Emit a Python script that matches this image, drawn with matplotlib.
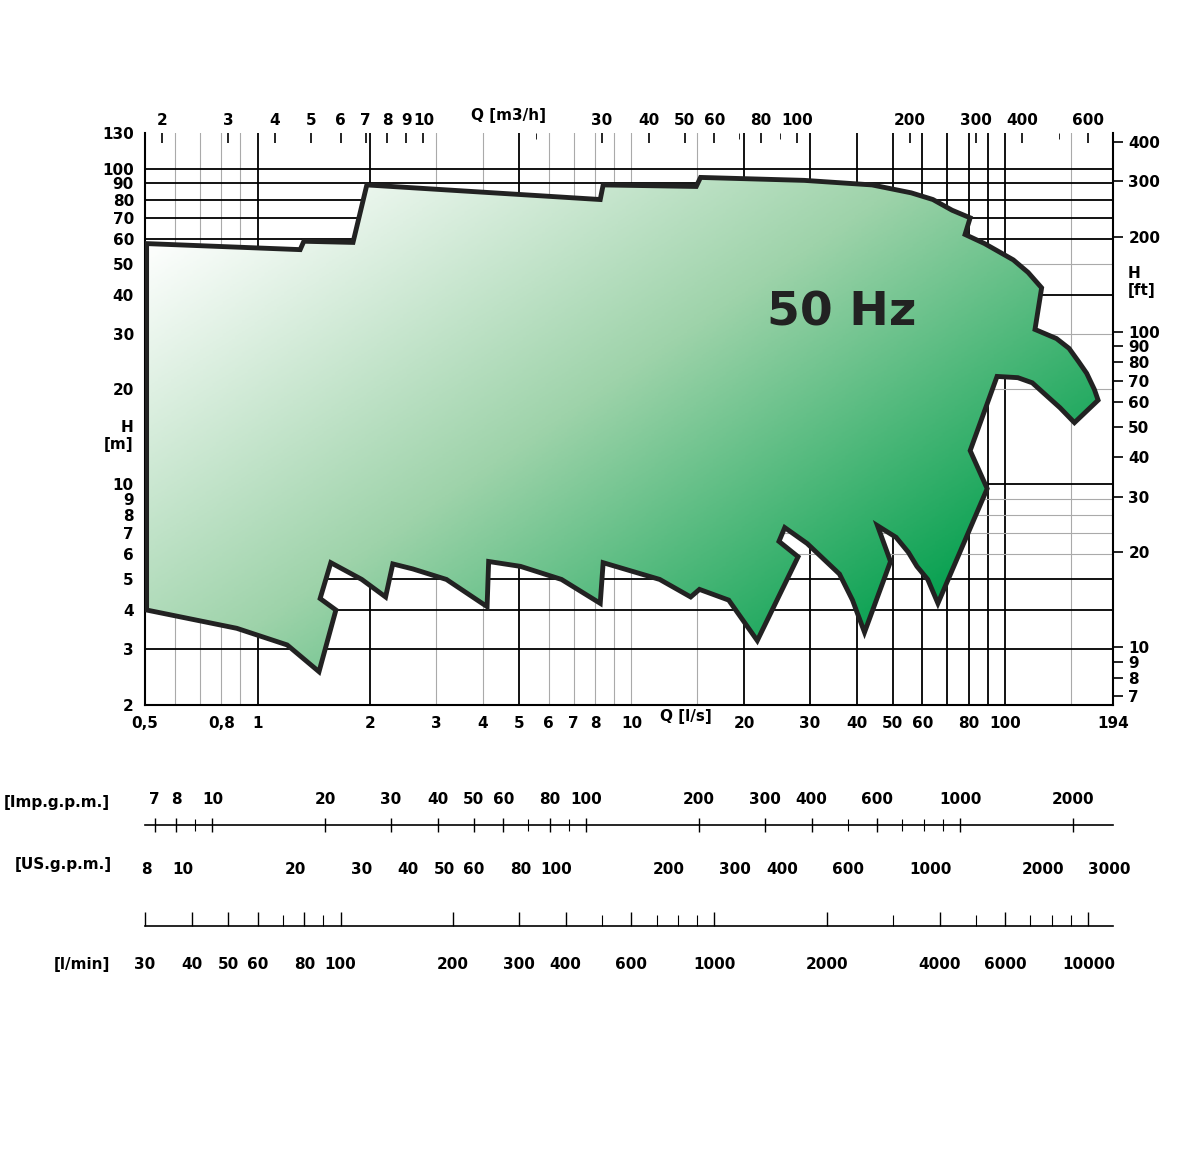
import numpy as np
import matplotlib.pyplot as plt
from matplotlib.patches import Polygon
from matplotlib.colors import LinearSegmentedColormap
from matplotlib.ticker import LogLocator, NullFormatter

# envelope of the 50 Hz pump range, Q [l/s], H [m]
env_q = [0.505, 1.30, 1.33, 1.80, 1.96, 8.25, 8.40, 14.9, 15.3, 29.0, 44.0, 56.0, 64.0, 72.0,
         80.5, 78.0, 88.0, 105, 115, 125, 120, 137, 148, 157, 165, 173, 177, 153, 140, 118,
         108, 95, 80.5, 89.4,
         66.0, 62.0, 58.0, 55.0, 51.0, 45.5, 49.3, 42.0, 39.0, 36.0, 29.5, 25.7, 24.8, 27.9,
         21.7, 18.2, 15.2,
         14.4, 11.9, 8.40, 8.25, 6.5, 5.05, 4.15, 4.11, 3.2, 2.6, 2.30, 2.20, 1.90, 1.57,
         1.47, 1.62, 1.46, 1.20, 0.88, 0.505]
env_h = [58.0, 55.5, 59.0, 58.5, 89.0, 80.0, 89.0, 88.0, 94.0, 92.0, 89.0, 84.0, 80.0, 74.0,
         70.0, 62.0, 58.0, 51.5, 47.0, 42.0, 31.0, 29.0, 27.0, 24.5, 22.5, 20.0, 18.5, 15.7,
         17.5, 21.0, 21.8, 22.0,
         12.8, 9.7, 4.2, 5.0, 5.5, 6.1, 6.8, 7.4, 5.7, 3.4, 4.3, 5.2, 6.5, 7.3, 6.6, 5.9,
         3.2, 4.3, 4.65,
         4.4, 5.0, 5.65, 4.2, 5.0, 5.5, 5.7, 4.1, 5.0, 5.4, 5.6, 4.4, 5.0, 5.65, 4.35,
         4.0, 2.55, 3.1, 3.5, 4.0]

x_ticks = [0.5, 0.8, 1, 2, 3, 4, 5, 6, 7, 8, 10, 20, 30, 40, 50, 60, 80, 100, 194]
x_labels = ['0,5', '0,8', '1', '2', '3', '4', '5', '6', '7', '8', '10', '20', '30', '40',
            '50', '60', '80', '100', '194']
y_ticks = [2, 3, 4, 5, 6, 7, 8, 9, 10, 20, 30, 40, 50, 60, 70, 80, 90, 100, 130]
ft_ticks = [7, 8, 9, 10, 20, 30, 40, 50, 60, 70, 80, 90, 100, 200, 300, 400]
m3h_ticks = [2, 3, 4, 5, 6, 7, 8, 9, 10, 30, 40, 50, 60, 80, 100, 200, 300, 400, 600]
imp_ticks = [7, 8, 10, 20, 30, 40, 50, 60, 80, 100, 200, 300, 400, 600, 1000, 2000]
us_ticks = [8, 10, 20, 30, 40, 50, 60, 80, 100, 200, 300, 400, 600, 1000, 2000, 3000]
lmin_ticks = [30, 40, 50, 60, 80, 100, 200, 300, 400, 600, 1000, 2000, 4000, 6000, 10000]

black_v = [1, 2, 5, 20, 30, 40, 50, 60, 70, 80, 90, 100]
gray_v = [0.6, 0.7, 0.8, 0.9, 3, 4, 6, 7, 8, 9, 10, 15, 150]
black_h = [3, 4, 5, 10, 40, 60, 70, 80, 90, 100]
gray_h = [6, 7, 8, 9, 20, 30, 50]

QMIN, QMAX, HMIN, HMAX = 0.5, 194, 2, 130
fs = 11

def minor_log(axis):
    axis.set_minor_locator(LogLocator(base=10, subs=np.arange(2, 10), numticks=30))
    axis.set_minor_formatter(NullFormatter())

fig = plt.figure(figsize=(12, 11.7), dpi=100)
ax = fig.add_axes([145 / 1200, 1 - 705 / 1170, 968 / 1200, 572 / 1170])
ax.set_xscale('log')
ax.set_yscale('log')
ax.set_xlim(QMIN, QMAX)
ax.set_ylim(HMIN, HMAX)

for v in gray_v:
    ax.axvline(v, color='#aaaaaa', lw=0.8, zorder=1)
for v in black_v:
    ax.axvline(v, color='black', lw=1.3, zorder=1)
for h in gray_h:
    ax.axhline(h, color='#aaaaaa', lw=0.8, zorder=1)
for h in black_h:
    ax.axhline(h, color='black', lw=1.3, zorder=1)

# gradient fill clipped by the envelope (white top-left -> green bottom-right)
yy, xx = np.mgrid[0:1:300j, 0:1:300j]
t = np.clip((xx * 0.75 + yy * 0.65 - 0.12) / 1.05, 0, 1)
cmap = LinearSegmentedColormap.from_list('g', ['#ffffff', '#9ed3aa', '#009e4c'])
im = ax.imshow(t, cmap=cmap, extent=(0, 1, 0, 1), origin='upper',
               transform=ax.transAxes, aspect='auto', zorder=2)
poly = Polygon(np.column_stack([env_q, env_h]), closed=True, facecolor='none',
               edgecolor='#222222', lw=3.5, zorder=3, joinstyle='miter')
ax.add_patch(poly)
im.set_clip_path(poly)
ax.set_xlim(QMIN, QMAX)
ax.set_ylim(HMIN, HMAX)

ax.text(0.72, 0.685, '50 Hz', transform=ax.transAxes, ha='center', va='center',
        fontsize=34, fontweight='bold', color='#222222', zorder=4)

ax.set_xticks(x_ticks)
ax.set_xticklabels(x_labels, fontsize=fs, fontweight='bold')
ax.xaxis.set_minor_locator(plt.NullLocator())
ax.set_yticks(y_ticks)
ax.set_yticklabels([str(v) for v in y_ticks], fontsize=fs, fontweight='bold')
ax.yaxis.set_minor_locator(plt.NullLocator())
ax.tick_params(axis='both', length=0, pad=8)
ax.text(14, 1.84, 'Q [l/s]', ha='center', va='center', fontsize=fs, fontweight='bold')
ax.text(-0.012, 0.47, 'H\n[m]', transform=ax.transAxes, ha='right', va='center',
        fontsize=fs, fontweight='bold')
ax.spines['top'].set_visible(False)
for s in ['left', 'right', 'bottom']:
    ax.spines[s].set_linewidth(1.5)

top = ax.secondary_xaxis('top', functions=(lambda q: q * 3.6, lambda m: m / 3.6))
top.set_xticks(m3h_ticks)
top.set_xticklabels([str(v) for v in m3h_ticks], fontsize=fs, fontweight='bold')
minor_log(top.xaxis)
top.tick_params(which='major', length=7, width=1.2, direction='in')
top.tick_params(which='minor', length=4, direction='in')
top.spines['top'].set_visible(False)
ax.text(4.7, 140, 'Q [m3/h]', ha='center', va='bottom', fontsize=fs, fontweight='bold')

right = ax.secondary_yaxis('right', functions=(lambda h: h * 3.281, lambda f: f / 3.281))
right.set_yticks(ft_ticks)
right.set_yticklabels([str(v) for v in ft_ticks], fontsize=fs, fontweight='bold')
right.yaxis.set_minor_locator(plt.NullLocator())
right.tick_params(length=7, width=1.2, direction='out', pad=4)
right.spines['right'].set_visible(False)
ax.text(1.015, 0.74, 'H\n[ft]', transform=ax.transAxes, ha='left', va='center',
        fontsize=fs, fontweight='bold')

# Imp / US gallons scale
ax2 = fig.add_axes([145 / 1200, 1 - 826 / 1170, 968 / 1200, 0.001])
ax2.set_xscale('log')
ax2.set_xlim(QMIN * 13.198, QMAX * 13.198)
for s in ['left', 'right', 'bottom']:
    ax2.spines[s].set_visible(False)
ax2.spines['top'].set_linewidth(1.2)
ax2.set_yticks([])
ax2.xaxis.tick_top()
ax2.set_xticks(imp_ticks)
ax2.set_xticklabels([str(v) for v in imp_ticks], fontsize=fs, fontweight='bold')
minor_log(ax2.xaxis)
ax2.tick_params(which='major', direction='inout', length=10, width=1, pad=8)
ax2.tick_params(which='minor', direction='inout', length=8, width=0.8)
us = ax2.secondary_xaxis(0, functions=(lambda g: g * 15.850 / 13.198, lambda u: u * 13.198 / 15.850))
us.set_xticks(us_ticks)
us.set_xticklabels([str(v) for v in us_ticks], fontsize=fs, fontweight='bold')
us.xaxis.set_minor_locator(plt.NullLocator())
us.tick_params(length=0, pad=26)
us.spines['bottom'].set_visible(False)
fig.text(110 / 1200, 1 - 803 / 1170, '[Imp.g.p.m.]', ha='right', va='center',
         fontsize=fs, fontweight='bold')
fig.text(112 / 1200, 1 - 864 / 1170, '[US.g.p.m.]', ha='right', va='center',
         fontsize=fs, fontweight='bold')

# l/min scale
ax3 = fig.add_axes([145 / 1200, 1 - 926 / 1170, 968 / 1200, 0.001])
ax3.set_xscale('log')
ax3.set_xlim(QMIN * 60, QMAX * 60)
for s in ['left', 'right', 'top']:
    ax3.spines[s].set_visible(False)
ax3.spines['bottom'].set_linewidth(1.2)
ax3.set_yticks([])
ax3.set_xticks(lmin_ticks)
ax3.set_xticklabels([str(v) for v in lmin_ticks], fontsize=fs, fontweight='bold')
minor_log(ax3.xaxis)
ax3.tick_params(which='major', direction='in', length=10, width=1, pad=22)
ax3.tick_params(which='minor', direction='in', length=8, width=0.8)
fig.text(110 / 1200, 1 - 965 / 1170, '[l/min]', ha='right', va='center',
         fontsize=fs, fontweight='bold')

fig.savefig('out.png', dpi=100)
